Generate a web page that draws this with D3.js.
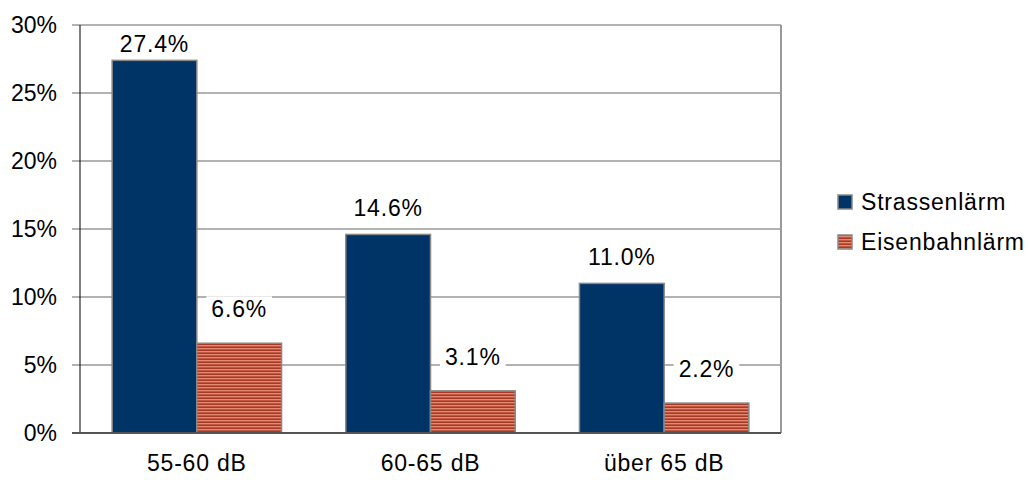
<!DOCTYPE html>
<html>
<head>
<meta charset="utf-8">
<script src="https://cdn.jsdelivr.net/npm/d3@7"></script>
<style>
    body { margin: 0; background: #fff; }
    text { font-family: "Liberation Sans", Arial, sans-serif; fill: #000; }
</style>
</head>
<body>
<div id="chart"></div>
<script>

// data
var categories = [ '55-60 dB', '60-65 dB', 'über 65 dB' ];
var seriesNames = [ 'Strassenlärm', 'Eisenbahnlärm' ];
var strassen = [ 27.4, 14.6, 11.0 ];
var eisenbahn = [ 6.6, 3.1, 2.2 ];
var yTicks = [ 0, 5, 10, 15, 20, 25, 30 ];

var width = 1029,
    height = 480;

var plot = { left: 80, right: 781, top: 25, bottom: 433 };

var fontSize = '23px';

var svg = d3.select('#chart').append('svg')
    .attr('width', width)
    .attr('height', height);

// striped fill for the second series
var defs = svg.append('defs');

var pattern = defs.append('pattern')
    .attr('id', 'stripes')
    .attr('patternUnits', 'userSpaceOnUse')
    .attr('width', 6)
    .attr('height', 3);

pattern.append('rect').attr('width', 6).attr('height', 3).attr('fill', '#e48a70');
pattern.append('rect').attr('y', 1).attr('width', 6).attr('height', 1).attr('fill', '#c0563f');
pattern.append('rect').attr('y', 2).attr('width', 6).attr('height', 1).attr('fill', '#a63a29');

var x = d3.scaleBand()
    .domain( categories )
    .range([ plot.left, plot.right ])
    .paddingInner( 0.275 )
    .paddingOuter( 0.1375 );

var xs = d3.scaleBand()
    .domain( seriesNames )
    .range([ 0, x.bandwidth() ]);

var y = d3.scaleLinear()
    .domain([ 0, 30 ])
    .range([ plot.bottom, plot.top ]);

// gridlines
svg.append('g')
    .selectAll('line')
    .data( yTicks.filter( function ( d ) { return d > 0; } ) )
    .enter().append('line')
    .attr('x1', plot.left - 8)
    .attr('x2', plot.right)
    .attr('y1', function ( d ) { return y( d ); })
    .attr('y2', function ( d ) { return y( d ); })
    .attr('stroke', '#999')
    .attr('stroke-width', 1.5);

// right border
svg.append('line')
    .attr('x1', plot.right).attr('x2', plot.right)
    .attr('y1', plot.top).attr('y2', plot.bottom)
    .attr('stroke', '#999')
    .attr('stroke-width', 2);

// y axis line
svg.append('line')
    .attr('x1', plot.left).attr('x2', plot.left)
    .attr('y1', plot.top).attr('y2', plot.bottom)
    .attr('stroke', '#000')
    .attr('stroke-width', 1);

// y tick labels
svg.append('g')
    .selectAll('text')
    .data( yTicks )
    .enter().append('text')
    .attr('x', plot.left - 23)
    .attr('y', function ( d ) { return y( d ); })
    .attr('dy', '0.35em')
    .attr('text-anchor', 'end')
    .style('font-size', fontSize)
    .text( function ( d ) { return d + '%'; });

var series = [
    { name: seriesNames[0], values: strassen, fill: '#003366', labelOffset: 26 },
    { name: seriesNames[1], values: eisenbahn, fill: 'url(#stripes)', labelOffset: 34 }
];

var groups = svg.selectAll('.series')
    .data( series )
    .enter().append('g')
    .attr('class', 'series');

groups.selectAll('rect')
    .data( function ( s ) { return s.values.map( function ( v, i ) { return { s: s, v: v, c: categories[i] }; }); })
    .enter().append('rect')
    .attr('x', function ( d ) { return x( d.c ) + xs( d.s.name ); })
    .attr('y', function ( d ) { return y( d.v ); })
    .attr('width', xs.bandwidth())
    .attr('height', function ( d ) { return y( 0 ) - y( d.v ); })
    .attr('fill', function ( d ) { return d.s.fill; })
    .attr('stroke', '#888')
    .attr('stroke-width', 1.5);

// bottom axis line
svg.append('line')
    .attr('x1', plot.left - 8).attr('x2', plot.right)
    .attr('y1', plot.bottom).attr('y2', plot.bottom)
    .attr('stroke', '#555')
    .attr('stroke-width', 2);

// value labels with white boxes
var labels = svg.append('g');

series.forEach( function ( s ) {

    s.values.forEach( function ( v, i ) {

        var cx = x( categories[i] ) + xs( s.name ) + xs.bandwidth() / 2;
        var cy = Math.max( y( v ) - s.labelOffset, 44 );

        var t = labels.append('text')
            .attr('x', cx)
            .attr('y', cy)
            .attr('dy', '0.35em')
            .attr('text-anchor', 'middle')
            .style('font-size', fontSize)
            .style('letter-spacing', '0.8px')
            .text( v.toFixed( 1 ) + '%' );

        var bb = t.node().getBBox();

        labels.insert('rect', function () { return t.node(); })
            .attr('x', bb.x - 5)
            .attr('y', bb.y)
            .attr('width', bb.width + 10)
            .attr('height', bb.height)
            .attr('fill', '#fff');

    });

});

// x labels
svg.append('g')
    .selectAll('text')
    .data( categories )
    .enter().append('text')
    .attr('x', function ( d ) { return x( d ) + x.bandwidth() / 2; })
    .attr('y', 463)
    .attr('dy', '0.35em')
    .attr('text-anchor', 'middle')
    .style('font-size', fontSize)
    .style('letter-spacing', '0.8px')
    .text( function ( d ) { return d; });

// legend
var legend = svg.append('g')
    .selectAll('g')
    .data( series )
    .enter().append('g')
    .attr('transform', function ( d, i ) { return 'translate(838,' + ( 202 + i * 40 ) + ')'; });

legend.append('rect')
    .attr('x', 0)
    .attr('y', -7)
    .attr('width', 14)
    .attr('height', 14)
    .attr('fill', function ( d ) { return d.fill; })
    .attr('stroke', '#888')
    .attr('stroke-width', 1.5);

legend.append('text')
    .attr('x', 23)
    .attr('y', 0)
    .attr('dy', '0.35em')
    .style('font-size', fontSize)
    .style('letter-spacing', '0.8px')
    .text( function ( d ) { return d.name; });

</script>
</body>
</html>
